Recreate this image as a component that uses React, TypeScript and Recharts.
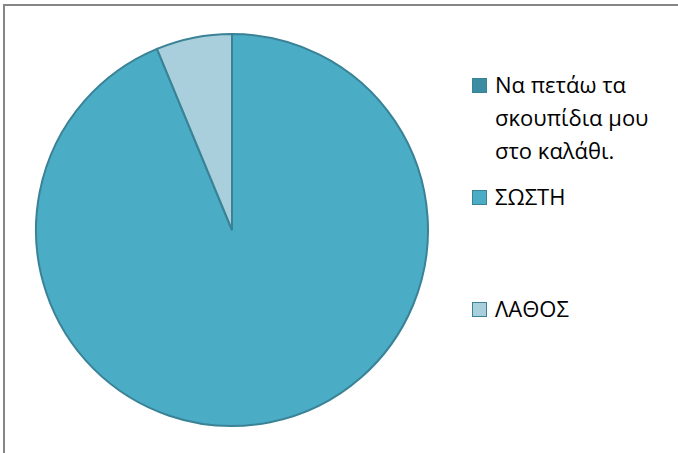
import { PieChart, Pie, Cell, Legend } from "recharts";

const categories = ["Να πετάω τα σκουπίδια μου στο καλάθι.", "ΣΩΣΤΗ", "ΛΑΘΟΣ"];
const values = [0, 15, 1];
const colors = ["#3C8DA3", "#4BACC6", "#A9CFDC"];

const data = categories.map((name, i) => ({ name, value: values[i] }));

// legend rows: top offset of each entry (excel spreads them out)
const legendTops = [68, 180, 292];

const renderLegend = () => (
  <div style={{ position: "relative", width: 200, height: 340 }}>
    {data.map((d, i) => (
      <div
        key={d.name}
        style={{
          position: "absolute",
          top: legendTops[i],
          left: 0,
          display: "flex",
          alignItems: "flex-start",
          fontFamily: "'Open Sans', 'Noto Sans', sans-serif",
          fontSize: 22,
          lineHeight: "33px",
          color: "#000",
        }}
      >
        <span
          style={{
            width: 13,
            height: 13,
            marginTop: 10,
            marginRight: 8,
            background: colors[i],
            border: "1px solid #3A8296",
            flexShrink: 0,
          }}
        />
        <span style={{ width: 175 }}>{d.name}</span>
      </div>
    ))}
  </div>
);

export default function App() {
  return (
    <div
      style={{
        position: "fixed",
        left: 0,
        top: 0,
        width: 678,
        height: 453,
        overflow: "hidden",
        background: "#fff",
      }}
    >
      <div
        style={{
          position: "absolute",
          left: 3,
          top: 4,
          width: 700,
          height: 470,
          border: "2px solid #868686",
        }}
      />
      <div style={{ position: "absolute", left: 0, top: 0 }}>
        <PieChart
          width={678}
          height={453}
          margin={{ top: 0, right: 0, bottom: 0, left: 0 }}
        >
          <Pie
            data={data}
            dataKey="value"
            nameKey="name"
            cx={232}
            cy={230}
            outerRadius={196}
            startAngle={90}
            endAngle={-270}
            stroke="#3A8296"
            strokeWidth={2}
            isAnimationActive={false}
          >
            {data.map((d, i) => (
              <Cell key={d.name} fill={colors[i]} />
            ))}
          </Pie>
          <Legend
            layout="vertical"
            content={renderLegend}
            wrapperStyle={{ left: 472, top: 0, width: 205 }}
          />
        </PieChart>
      </div>
    </div>
  );
}
